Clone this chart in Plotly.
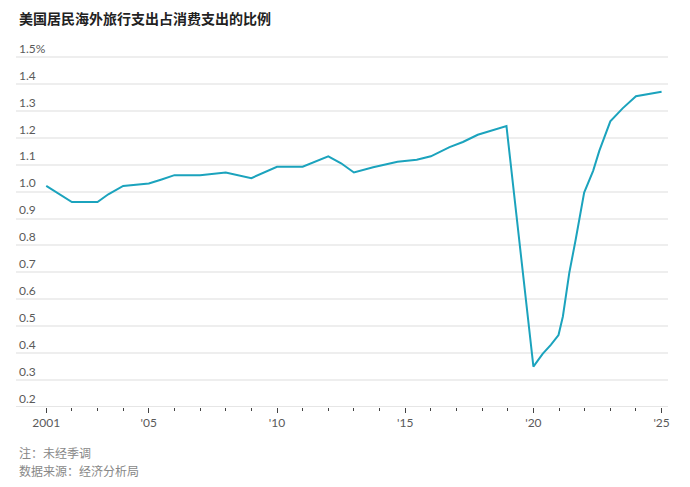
import plotly.graph_objects as go

# Data
years = [2001.0, 2002.0, 2003.0, 2003.42, 2004.0, 2005.0, 2005.5, 2006.0, 2007.0, 2008.0,
         2009.0, 2009.5, 2010.0, 2011.0, 2011.5, 2012.0, 2012.5, 2013.0, 2013.75, 2014.7,
         2015.45, 2016.0, 2016.73, 2017.25, 2017.83, 2018.95, 2020.0, 2020.36, 2020.68,
         2020.98, 2021.15, 2021.4, 2021.65, 2021.8, 2021.98, 2022.33, 2022.57, 2023.0,
         2023.48, 2024.0, 2025.0]
share = [1.021, 0.961, 0.961, 0.99, 1.021, 1.03, 1.045, 1.061, 1.061, 1.071,
         1.05, 1.07, 1.092, 1.092, 1.11, 1.131, 1.105, 1.071, 1.09, 1.111,
         1.118, 1.131, 1.165, 1.184, 1.211, 1.243, 0.35, 0.397, 0.431,
         0.467, 0.536, 0.698, 0.822, 0.897, 0.996, 1.077, 1.151, 1.261,
         1.309, 1.354, 1.371]

y_ticks = [0.2, 0.3, 0.4, 0.5, 0.6, 0.7, 0.8, 0.9, 1.0, 1.1, 1.2, 1.3, 1.4, 1.5]
y_labels = ["0.2", "0.3", "0.4", "0.5", "0.6", "0.7", "0.8", "0.9", "1.0", "1.1", "1.2", "1.3", "1.4", "1.5%"]
x_ticks = [2001, 2005, 2010, 2015, 2020, 2025]
x_labels = ["2001", "'05", "'10", "'15", "'20", "'25"]

title = "美国居民海外旅行支出占消费支出的比例"
note = "注：未经季调"
source = "数据来源：经济分析局"

num_font = "Lato, 'Noto Sans CJK SC', sans-serif"
cjk_font = "'Noto Sans CJK SC', sans-serif"

OFF = 8            # page body margin
Y_TOP_VAL = 1.6
TOP = 57 - 0.1 * 268 - OFF   # plot top in figure px (1.5 gridline at screen y=57)
BOTTOM = 407 - OFF           # y=0.2 axis in figure px
LEFT = 16 - OFF
RIGHT = 668 - OFF

fig = go.Figure()
fig.add_trace(go.Scatter(
    x=years, y=share, mode="lines",
    line=dict(color="#1ba3bd", width=2),
    hoverinfo="skip", showlegend=False,
))

fig.update_layout(
    width=690, height=487,
    margin=dict(l=LEFT, r=690 - RIGHT, t=TOP, b=487 - BOTTOM, autoexpand=False),
    paper_bgcolor="white", plot_bgcolor="white",
    font=dict(family=num_font, size=12, color="#5a5a5a"),
    xaxis=dict(
        range=[1999.82, 2025.25],
        tickvals=x_ticks, ticktext=x_labels,
        ticks="outside", ticklen=5, tickwidth=1, tickcolor="#444444",
        minor=dict(dtick=1, tick0=2001, ticks="outside", ticklen=3, tickwidth=1,
                   tickcolor="#444444", showgrid=False),
        showgrid=False, zeroline=False,
        showline=False, automargin=False,
        tickfont=dict(family=num_font, size=12, color="#5a5a5a"),
        fixedrange=True,
    ),
    yaxis=dict(
        range=[0.2, Y_TOP_VAL],
        tickvals=y_ticks, ticktext=y_labels,
        ticklabelposition="inside top",
        showgrid=True, gridcolor="#eeeeee", gridwidth=2,
        zeroline=False, showline=False, ticks="", automargin=False,
        tickfont=dict(family=num_font, size=12, color="#5a5a5a"),
        fixedrange=True,
    ),
    shapes=[dict(type="line", xref="paper", yref="y", x0=0, x1=1, y0=0.2, y1=0.2,
                 line=dict(color="#e6e6e6", width=2), layer="below")],
    annotations=[
        dict(text="<b>" + title + "</b>", xref="paper", yref="paper", x=0, y=1,
             xanchor="left", yanchor="middle", xshift=1, yshift=(TOP + OFF) - 18,
             showarrow=False, font=dict(family=cjk_font, size=14, color="#222222")),
        dict(text=note, xref="paper", yref="paper", x=0, y=0,
             xanchor="left", yanchor="middle", xshift=1, yshift=-(452 - 407),
             showarrow=False, font=dict(family=cjk_font, size=12, color="#888888")),
        dict(text=source, xref="paper", yref="paper", x=0, y=0,
             xanchor="left", yanchor="middle", xshift=1, yshift=-(470 - 407),
             showarrow=False, font=dict(family=cjk_font, size=12, color="#888888")),
    ],
)

fig.write_html("out.html")
